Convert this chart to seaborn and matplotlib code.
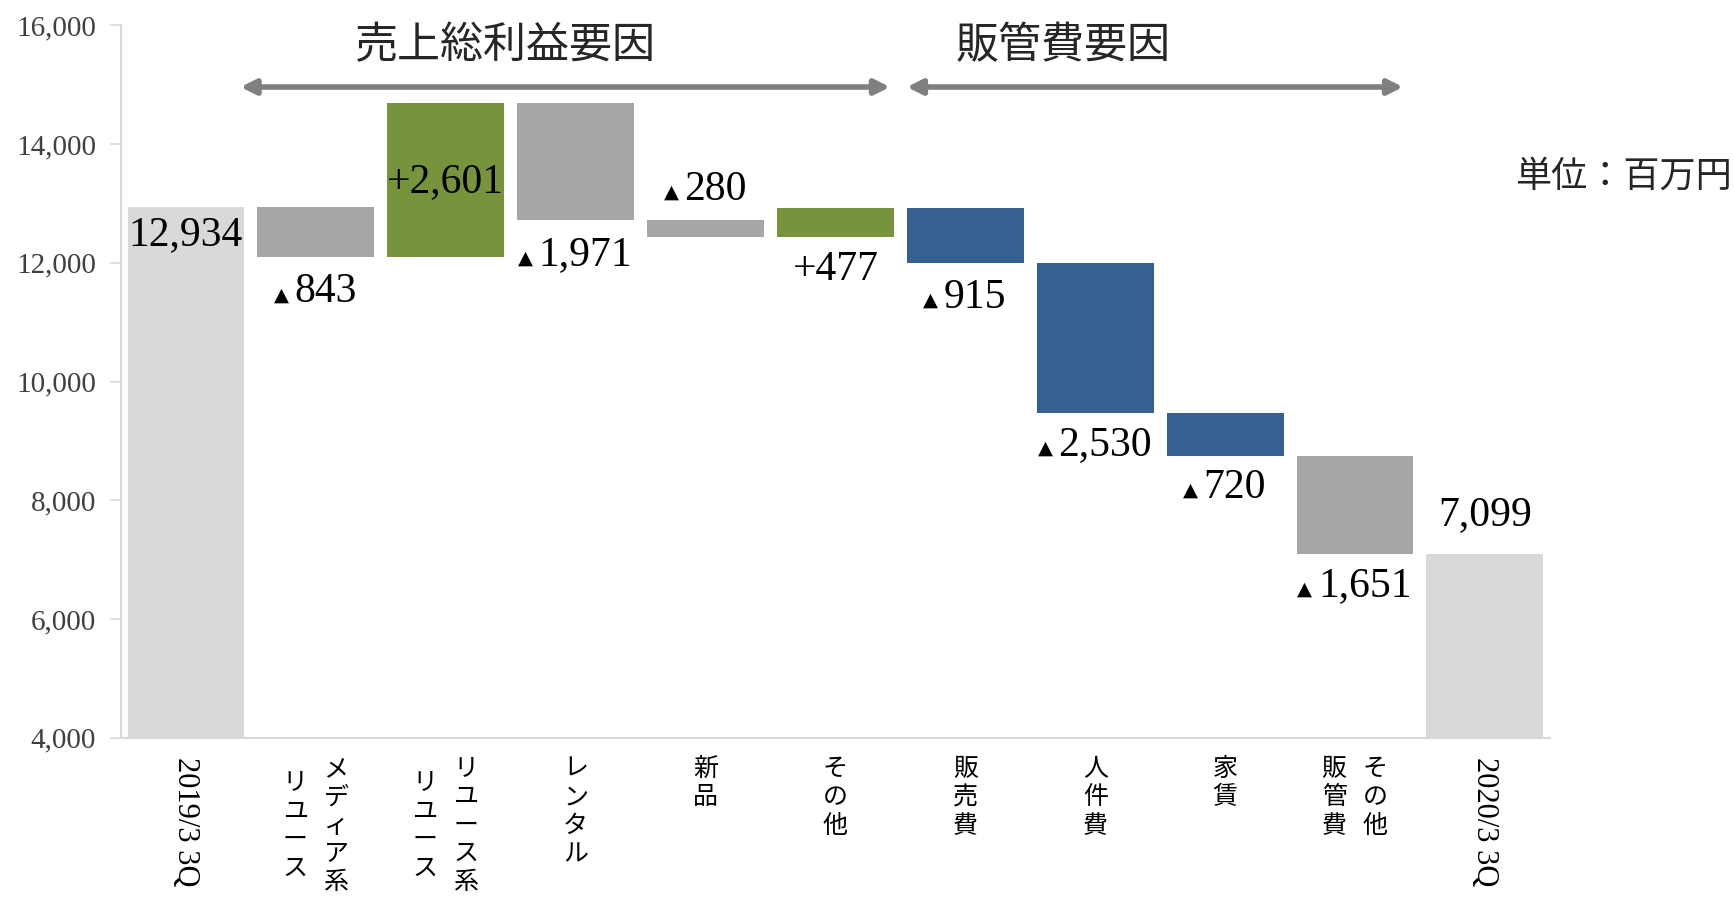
import seaborn as sns
import matplotlib.pyplot as plt
import numpy as np
from matplotlib.ticker import FuncFormatter

# --- Data (百万円) ---
categories = ['2019/3 3Q', 'メディア系リユース', 'リユース系リユース', 'レンタル', '新品',
              'その他', '販売費', '人件費', '家賃', 'その他販管費', '2020/3 3Q']
start_value = 12934
end_value = 7099
changes = [-843, 2601, -1971, -280, 477, -915, -2530, -720, -1651]
value_labels = ['12,934', '▲843', '+2,601', '▲1,971', '▲280', '+477',
                '▲915', '▲2,530', '▲720', '▲1,651', '7,099']
# vertical tick label columns, right column first (縦書き)
label_columns = [None, ['メディア系', 'リユース'], ['リユース系', 'リユース'], ['レンタル'], ['新品'],
                 ['その他'], ['販売費'], ['人件費'], ['家賃'], ['その他', '販管費'], None]

# --- Styling ---
colors = ['#D9D9D9', '#A6A6A6', '#77933C', '#A6A6A6', '#A6A6A6', '#77933C',
          '#376092', '#376092', '#376092', '#A6A6A6', '#D9D9D9']
# where the value label goes: (rule, offset in points)
label_pos = [('top', -20), ('bottom', -25), ('mid', -1), ('bottom', -25), ('top', 22),
             ('bottom', -24), ('bottom', -25), ('bottom', -23), ('bottom', -23),
             ('bottom', -23), ('top', 28)]

sns.set_theme(style='white')
plt.rcParams['font.family'] = ['Liberation Serif', 'Noto Sans CJK JP']
jp = ['Noto Sans CJK JP', 'DejaVu Sans']

# waterfall geometry from the changes
levels = np.concatenate([[start_value], start_value + np.cumsum(changes)])
bottoms = [0] + [min(levels[k], levels[k + 1]) for k in range(len(changes))] + [0]
heights = [start_value] + [abs(c) for c in changes] + [end_value]
tops = [b + h for b, h in zip(bottoms, heights)]

fig = plt.figure(figsize=(17.34, 9.02), dpi=100)
ax = fig.add_axes([0.0698, 0.182, 0.824, 0.790])

sns.barplot(x=categories, y=heights, bottom=bottoms, ax=ax, errorbar=None,
            width=0.9, color='#A6A6A6', linewidth=0)
for patch, c in zip(ax.patches, colors):
    patch.set_facecolor(c)
    patch.set_edgecolor(c)

ax.set_xlim(-0.5, len(categories) - 0.5)
ax.set_ylim(4000, 16000)
ax.set_yticks(range(4000, 16001, 2000))
ax.yaxis.set_major_formatter(FuncFormatter(lambda v, p: f'{int(v):,}'))
ax.tick_params(axis='y', labelsize=21, colors='#404040', left=True, length=8,
               width=1.2, color='#D9D9D9', pad=10)
ax.set_xticks([])
ax.set_xlabel('')
for side in ['top', 'right']:
    ax.spines[side].set_visible(False)
for side in ['left', 'bottom']:
    ax.spines[side].set_color('#D9D9D9')
    ax.spines[side].set_linewidth(1.5)

# value labels
for i, (txt, (rule, off)) in enumerate(zip(value_labels, label_pos)):
    if rule == 'top':
        y = tops[i]
    elif rule == 'bottom':
        y = bottoms[i]
    else:
        y = (tops[i] + bottoms[i]) / 2
    tri = txt.startswith('▲')
    num = txt[1:] if tri else txt
    t = ax.annotate(num, xy=(i, y), xytext=(7 if tri else 0, off), textcoords='offset points',
                    ha='center', va='center', fontsize=30, color='black')
    if tri:
        ax.annotate('▲', xy=(0, 0.42), xycoords=t, xytext=(-4, 0), textcoords='offset points',
                    ha='right', va='center', fontsize=14, family=['DejaVu Sans'], color='black')

# x labels: vertical Japanese text
xtr = ax.get_xaxis_transform()
for i, cols in enumerate(label_columns):
    if cols is None:
        ax.annotate(categories[i], xy=(i, 0), xycoords=xtr, xytext=(0, -14),
                    textcoords='offset points', rotation=-90, ha='center', va='top',
                    fontsize=22, color='black')
        continue
    n = max(len(c) for c in cols)
    xs = [0] if len(cols) == 1 else [14.5, -15]
    for col, dx in zip(cols, xs):
        dy = -13 - (n - len(col)) * 10.3
        ax.annotate('\n'.join(col), xy=(i, 0), xycoords=xtr, xytext=(dx, dy),
                    textcoords='offset points', ha='center', va='top', fontsize=18,
                    linespacing=1.12, family=jp, color='black')

# group arrows and headings
arrow_kw = dict(arrowstyle='<|-|>', color='#7F7F7F', lw=4, mutation_scale=22,
                shrinkA=0, shrinkB=0)
ax.annotate('', xy=(5.42, 14960), xytext=(0.42, 14960), arrowprops=arrow_kw, annotation_clip=False)
ax.annotate('', xy=(9.37, 14960), xytext=(5.55, 14960), arrowprops=arrow_kw, annotation_clip=False)
ax.text(2.45, 15650, '売上総利益要因', ha='center', va='center', fontsize=31,
        family=jp, color='#262626')
ax.text(6.75, 15650, '販管費要因', ha='center', va='center', fontsize=31,
        family=jp, color='#262626')

fig.text(0.999, 0.804, '単位：百万円', ha='right', va='center', fontsize=26,
         family=jp, color='#262626')

fig.savefig('out.png', dpi=100)
plt.close(fig)
